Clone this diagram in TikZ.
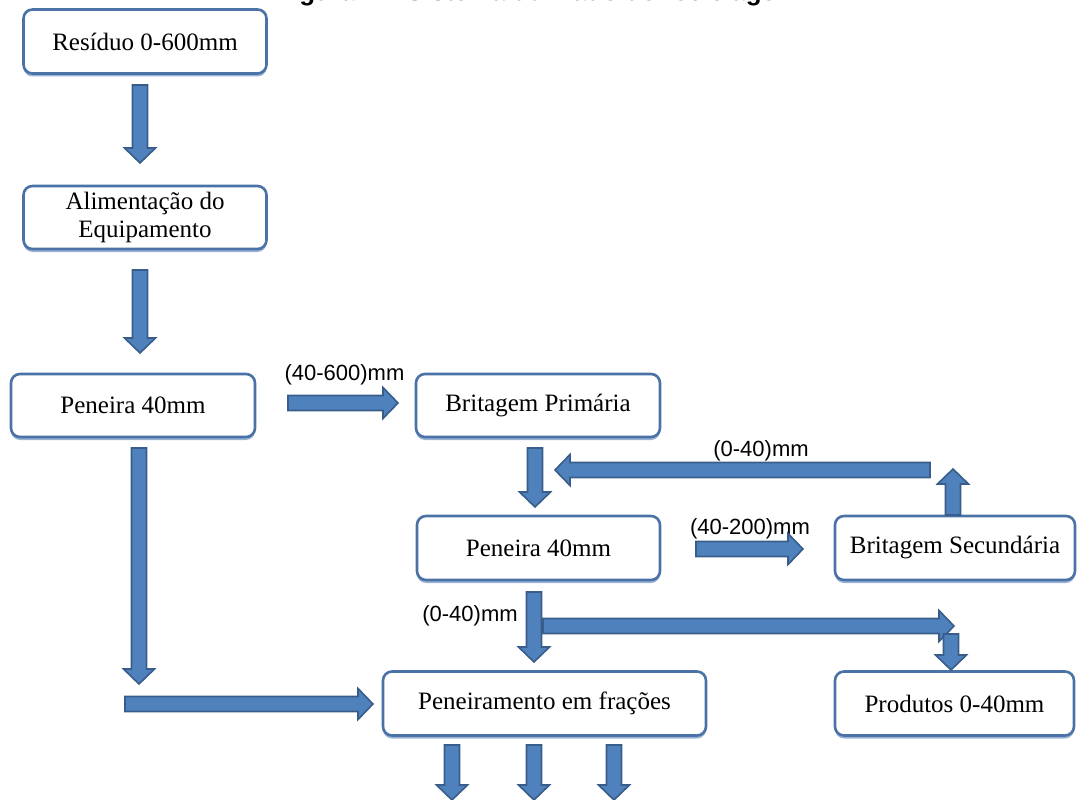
\documentclass[tikz,border=0pt]{standalone}
\usepackage{fontspec}
\setmainfont{Liberation Serif}
\newfontfamily\labelfont{Liberation Sans}
\usetikzlibrary{calc,shadows}
\definecolor{boxline}{HTML}{4A72A6}
\definecolor{boxshadow}{HTML}{9AB3D5}
\definecolor{arrowfill}{HTML}{4F81BD}
\definecolor{arrowline}{HTML}{385D8A}
\tikzset{
  procbox/.style={draw=boxline, line width=2.6pt, rounded corners=9pt, fill=white,
    font=\fontsize{25}{28}\selectfont, align=center, inner sep=0pt,
    drop shadow={shadow xshift=0pt, shadow yshift=-3pt, fill=boxshadow, opacity=1}},
  lbl/.style={font=\labelfont\fontsize{22}{24}\selectfont, inner sep=0pt},
  blockarrow/.style={draw=arrowline, fill=arrowfill, line width=1.6pt, line join=miter},
}
\newcommand\barrow[2]{%
  \path let \p1=(#1), \p2=(#2) in \pgfextra{%
    \pgfmathsetmacro\bL{veclen(\x2-\x1,\y2-\y1)}%
    \pgfmathsetmacro\bA{atan2(\y2-\y1,\x2-\x1)}%
    \pgfmathsetmacro\bX{\x1}%
    \pgfmathsetmacro\bY{\y1}%
    \xdef\barL{\bL}\xdef\barA{\bA}\xdef\barX{\bX}\xdef\barY{\bY}};
  \filldraw[blockarrow, shift={(\barX pt,\barY pt)}, rotate=\barA]
    (0pt,-7.5pt) -- ({\barL pt-15pt},-7.5pt) -- ({\barL pt-15pt},-15.5pt)
    -- (\barL pt,0pt) -- ({\barL pt-15pt},15.5pt) -- ({\barL pt-15pt},7.5pt)
    -- (0pt,7.5pt) -- cycle;
}
\begin{document}
\begin{tikzpicture}[x=1pt,y=-1pt]
\useasboundingbox (0,0) rectangle (1077,800);
% title (cut off by the page edge)
\node[font=\labelfont\bfseries\fontsize{26}{28}\selectfont, anchor=base west, inner sep=0pt]
  (title) at (276,1) {Figura 1 – Sistema utilizado de reciclagem};
% boxes
\node[procbox, minimum width=243pt, minimum height=64pt] (res)  at (145,41.5) {Resíduo 0-600mm};
\node[procbox, minimum width=243pt, minimum height=63pt] (ali)  at (145,217.5) {Alimentação do\\Equipamento};
\node[procbox, minimum width=244pt, minimum height=63pt] (pen1) at (133,405.5) {Peneira 40mm};
\node[procbox, minimum width=244pt, minimum height=63pt] (bp)   at (538,405.5) {Britagem Primária};
\node[procbox, minimum width=243pt, minimum height=64pt] (pen2) at (538.5,548) {Peneira 40mm};
\node[procbox, minimum width=240pt, minimum height=64pt] (bs)   at (955,548) {Britagem Secundária};
\node[procbox, minimum width=323pt, minimum height=64pt] (pf)   at (544.5,703.5) {Peneiramento em frações};
\node[procbox, minimum width=239pt, minimum height=64pt] (prod) at (954.5,703.5) {Produtos 0-40mm};
% labels
\node[lbl] (l1) at (344.5,375) {(40-600)mm};
\node[lbl] (l2) at (761,451) {(0-40)mm};
\node[lbl] (l3) at (750,529) {(40-200)mm};
\node[lbl] (l4) at (470,616) {(0-40)mm};
% arrow end points
\coordinate (a1s) at (140,85);   \coordinate (a1e) at (140,163);
\coordinate (a2s) at (140,270);  \coordinate (a2e) at (140,353);
\coordinate (a3s) at (288,403);  \coordinate (a3e) at (398,403);
\coordinate (a4s) at (139,448);  \coordinate (a4e) at (139,684);
\coordinate (a5s) at (125,704);  \coordinate (a5e) at (373,704);
\coordinate (a6s) at (535,448);  \coordinate (a6e) at (535,507);
\coordinate (a7s) at (930,470);  \coordinate (a7e) at (555,470);
\coordinate (a8s) at (953,515);  \coordinate (a8e) at (953,469);
\coordinate (a9s) at (696,549);  \coordinate (a9e) at (803,549);
\coordinate (a10s) at (534,592); \coordinate (a10e) at (534,662);
\coordinate (a11s) at (543,626); \coordinate (a11e) at (954,626);
\coordinate (a12s) at (951,634); \coordinate (a12e) at (951,670);
\coordinate (a13s) at (452,745); \coordinate (a13e) at (452,800);
\coordinate (a14s) at (534,745); \coordinate (a14e) at (534,800);
\coordinate (a15s) at (614,745); \coordinate (a15e) at (614,800);
\barrow{a1s}{a1e}
\barrow{a2s}{a2e}
\barrow{a3s}{a3e}
\barrow{a4s}{a4e}
\barrow{a5s}{a5e}
\barrow{a6s}{a6e}
\barrow{a7s}{a7e}
\barrow{a8s}{a8e}
\barrow{a9s}{a9e}
\barrow{a10s}{a10e}
\barrow{a11s}{a11e}
\barrow{a12s}{a12e}
\barrow{a13s}{a13e}
\barrow{a14s}{a14e}
\barrow{a15s}{a15e}
\end{tikzpicture}
\end{document}
